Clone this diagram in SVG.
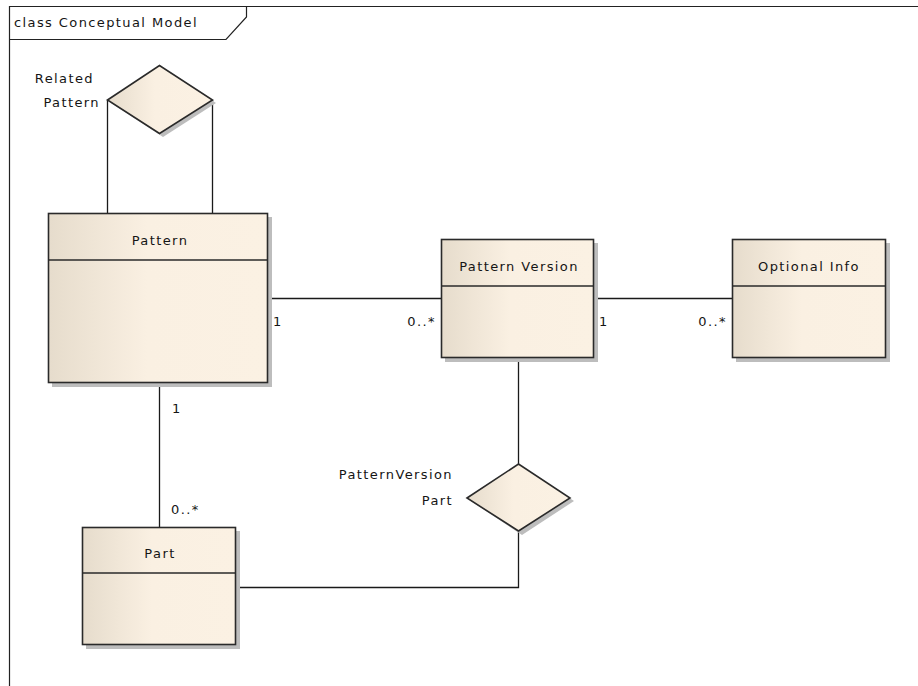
<svg xmlns="http://www.w3.org/2000/svg" width="918" height="686" viewBox="0 0 918 686">
  <defs>
    <linearGradient id="fillGrad" x1="0" y1="0" x2="1" y2="0">
      <stop offset="0" stop-color="#e6dccc"/>
      <stop offset="0.45" stop-color="#faf0e2"/>
      <stop offset="1" stop-color="#fbf1e3"/>
    </linearGradient>
  </defs>
  <style>
    .frame { fill: none; stroke: #222; stroke-width: 1.2; }
    .box { fill: url(#fillGrad); stroke: #2a2a2a; stroke-width: 1.6; }
    .shadow { fill: #bdbdbd; }
    .sep { stroke: #2a2a2a; stroke-width: 1.4; }
    .conn { fill: none; stroke: #1a1a1a; stroke-width: 1.3; }
    text { font-family: "DejaVu Sans", "Liberation Sans", sans-serif; font-size: 13px; letter-spacing: 1.4px; fill: #151515; }
    .title { text-anchor: middle; }
    .end { text-anchor: end; }
  </style>

  <rect width="918" height="686" fill="#ffffff"/>

  <!-- diagram frame with name tab -->
  <g id="frame">
    <path class="frame" d="M9.5,686 V6.5 H918"/>
    <path class="frame" d="M9.5,39.5 H226 L246.5,17 V6.5"/>
    <text x="14" y="27" letter-spacing="1">class Conceptual Model</text>
  </g>

  <!-- connectors -->
  <g id="connectors">
    <path class="conn" d="M107.5,100 V213"/>
    <path class="conn" d="M212.5,100 V213"/>
    <path class="conn" d="M268,298.5 H441"/>
    <path class="conn" d="M594,298.5 H732"/>
    <path class="conn" d="M159.5,383 V527"/>
    <path class="conn" d="M518.5,358 V464"/>
    <path class="conn" d="M518.5,531 V587.5 H236"/>
    <text x="273" y="326">1</text>
    <text class="end" x="436" y="326">0..*</text>
    <text x="599" y="326">1</text>
    <text class="end" x="727" y="326">0..*</text>
    <text x="172" y="413">1</text>
    <text x="171" y="514">0..*</text>
  </g>

  <!-- Related Pattern association -->
  <g id="related-pattern">
    <polygon class="shadow" points="111,103 163,69 216,103 163,137"/>
    <polygon class="box" points="107.5,100 159.5,65.5 212.5,100 159.5,133.5"/>
    <text class="end" x="94" y="83">Related</text>
    <text class="end" x="100" y="107">Pattern</text>
  </g>

  <!-- PatternVersion Part association -->
  <g id="patternversion-part">
    <polygon class="shadow" points="471,501 522,467 574,501 522,535"/>
    <polygon class="box" points="467,498 518.5,464 570,498 518.5,531"/>
    <text class="end" x="453" y="479">PatternVersion</text>
    <text class="end" x="453" y="505">Part</text>
  </g>

  <!-- Pattern -->
  <g id="pattern">
    <rect class="shadow" x="52" y="217" width="220" height="170"/>
    <rect class="box" x="48.5" y="213.5" width="219" height="169"/>
    <line class="sep" x1="48.5" y1="260" x2="267.5" y2="260"/>
    <text class="title" x="160" y="245">Pattern</text>
  </g>

  <!-- Pattern Version -->
  <g id="pattern-version">
    <rect class="shadow" x="445" y="243" width="153" height="119"/>
    <rect class="box" x="441.5" y="239.5" width="152" height="118"/>
    <line class="sep" x1="441.5" y1="286" x2="593.5" y2="286"/>
    <text class="title" x="519" y="271" letter-spacing="1.8">Pattern Version</text>
  </g>

  <!-- Optional Info -->
  <g id="optional-info">
    <rect class="shadow" x="736" y="243" width="154" height="119"/>
    <rect class="box" x="732.5" y="239.5" width="153" height="118"/>
    <line class="sep" x1="732.5" y1="286" x2="885.5" y2="286"/>
    <text class="title" x="809" y="271">Optional Info</text>
  </g>

  <!-- Part -->
  <g id="part">
    <rect class="shadow" x="86" y="531" width="154" height="118"/>
    <rect class="box" x="82.5" y="527.5" width="153" height="117"/>
    <line class="sep" x1="82.5" y1="573" x2="235.5" y2="573"/>
    <text class="title" x="160" y="558">Part</text>
  </g>
</svg>
